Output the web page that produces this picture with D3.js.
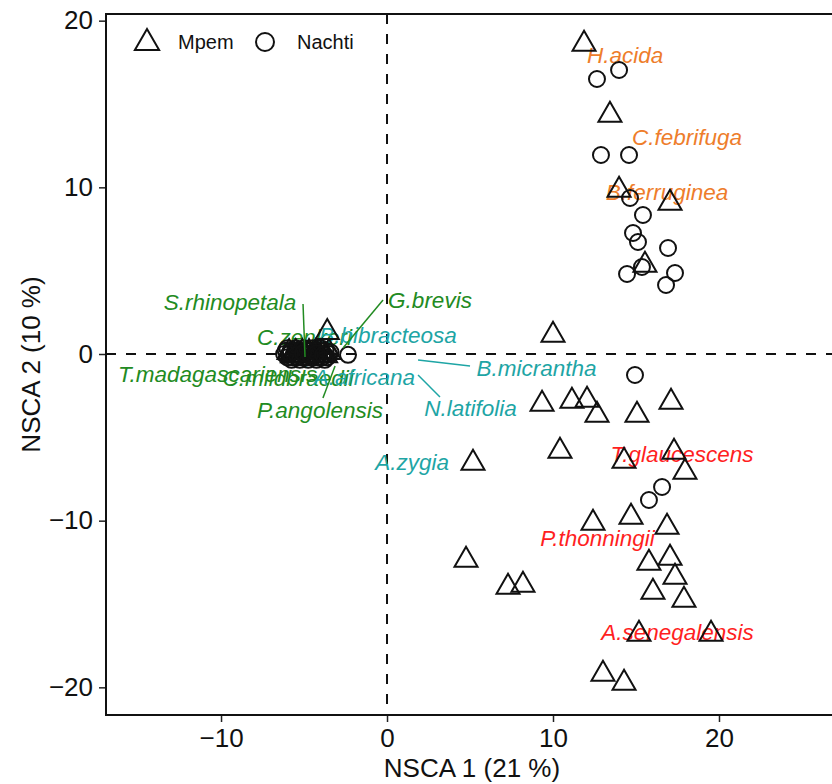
<!DOCTYPE html>
<html>
<head>
<meta charset="utf-8">
<script src="https://cdn.jsdelivr.net/npm/d3@7"></script>
<style>
  body { margin: 0; background: #fff; }
  svg { display: block; font-family: "Liberation Sans", Arial, sans-serif; }
</style>
</head>
<body>
<div id="chart"></div>
<script>
// sample scores (NSCA axis 1, axis 2)
const mpemPoints = [
  [11.87, 18.60], [13.43, 14.34], [13.98, 9.84], [17.05, 9.06], [15.54, 5.34],
  [10.00, 1.14], [9.34, -3.00], [11.14, -2.82], [12.05, -2.76], [12.65, -3.66],
  [15.06, -3.66], [17.11, -2.88], [10.42, -5.82], [5.18, -6.54], [14.28, -6.42],
  [17.29, -5.88], [17.95, -7.08], [12.41, -10.14], [14.70, -9.78], [16.87, -10.38],
  [4.76, -12.36], [15.78, -12.54], [17.05, -12.24], [17.35, -13.38], [16.02, -14.28],
  [17.89, -14.76], [7.29, -13.98], [8.19, -13.86], [15.18, -16.80], [19.52, -16.80],
  [13.01, -19.20], [14.28, -19.74],
  // the crowd near the origin
  [-5.9, 0.1], [-5.7, -0.1], [-5.5, 0.1], [-5.3, -0.1], [-5.1, 0.1], [-4.9, -0.1],
  [-4.7, 0.1], [-4.5, -0.1], [-4.3, 0.1], [-4.1, -0.1], [-3.9, 0.1], [-3.7, -0.1],
  [-3.5, 0.1], [-3.6, 1.3]
];
const nachtiPoints = [
  [12.65, 16.50], [13.98, 17.04], [12.89, 11.94], [14.58, 11.94], [14.64, 9.36],
  [15.42, 8.34], [14.82, 7.26], [15.12, 6.72], [16.93, 6.36], [14.46, 4.80],
  [15.36, 5.22], [17.35, 4.86], [16.81, 4.14], [14.94, -1.26], [16.57, -7.98],
  [15.78, -8.76],
  [-6.2, 0.0], [-6.1, 0.2], [-6.0, -0.2], [-5.9, 0.0], [-5.8, 0.2], [-5.7, -0.2],
  [-5.6, 0.0], [-5.5, 0.2], [-5.4, -0.2], [-5.3, 0.0], [-5.2, 0.2], [-5.1, -0.2],
  [-5.0, 0.0], [-4.9, 0.2], [-4.8, -0.2], [-4.7, 0.0], [-4.6, 0.2], [-4.5, -0.2],
  [-4.4, 0.0], [-4.3, 0.2], [-4.2, -0.2], [-4.1, 0.0], [-4.0, 0.2], [-3.9, -0.2],
  [-3.8, 0.0], [-3.7, 0.2], [-3.6, -0.2], [-3.5, 0.0], [-3.4, 0.1],
  [-6.0, 0.35], [-5.75, -0.35], [-5.5, 0.35], [-5.25, -0.35], [-5.0, 0.35],
  [-4.75, -0.35], [-4.5, 0.35], [-4.25, -0.35], [-4.0, 0.35], [-3.75, -0.35],
  [-5.85, 0.05], [-5.45, -0.05], [-5.05, 0.05], [-4.65, -0.05], [-4.25, 0.05],
  [-3.85, -0.05],
  [-2.35, -0.05]
];

// species labels: name, colour group, label centre
const speciesNames = ['S.rhinopetala', 'G.brevis', 'C.zenkeri', 'T.madagascariensis',
  'C.mildbraedii', 'P.angolensis', 'B.bibracteosa', 'A.africana', 'B.micrantha',
  'N.latifolia', 'A.zygia', 'H.acida', 'C.febrifuga', 'B.ferruginea',
  'T.glaucescens', 'P.thonningii', 'A.senegalensis'];
const speciesGroup = ['g', 'g', 'g', 'g', 'g', 'g', 't', 't', 't', 't', 't',
  'o', 'o', 'o', 'r', 'r', 'r'];
const labelX = [-9.46, 2.59, -4.97, -10.21, -5.96, -4.04, 0.06, -1.36, 9.01,
  5.03, 1.51, 14.34, 18.07, 16.87, 17.77, 12.68, 17.50];
const labelY = [3.12, 3.24, 1.02, -1.20, -1.44, -3.36, 1.14, -1.38, -0.84,
  -3.24, -6.48, 17.94, 13.02, 9.72, -6.00, -11.04, -16.68];

// leader segments (species -> label)
const segSpecies = ['S.rhinopetala', 'G.brevis', 'P.angolensis', 'B.micrantha', 'N.latifolia'];
const segFromX = [-4.94, -2.65, -3.13, 1.87, 1.87];
const segFromY = [-0.18, 0.36, -0.72, -0.36, -1.26];
const segToX = [-5.06, -0.24, -3.86, 5.00, 3.19];
const segToY = [3.00, 3.24, -2.64, -0.72, -2.58];

const groupColors = { g: '#228b22', t: '#1ea5a5', o: '#ee7d2b', r: '#ff1f1f' };

const xTicks = [-10, 0, 10, 20];
const yTicks = [-20, -10, 0, 10, 20];

const width = 832, height = 784;
const plotLeft = 106, plotTop = 14, plotRight = 838, plotBottom = 715;

const x = d3.scaleLinear().domain([-16.93, 27.17]).range([plotLeft, plotRight]);
const y = d3.scaleLinear().domain([-21.66, 20.4]).range([plotBottom, plotTop]);

const fmt = d => d < 0 ? '\u2212' + Math.abs(d) : String(d);

const svg = d3.select('#chart').append('svg')
  .attr('width', width)
  .attr('height', height);

svg.append('defs').append('clipPath')
  .attr('id', 'plotclip')
  .append('rect')
  .attr('x', plotLeft).attr('y', plotTop)
  .attr('width', plotRight - plotLeft).attr('height', plotBottom - plotTop);

// axes
const yAxis = svg.append('g')
  .attr('transform', `translate(${plotLeft},0)`)
  .call(d3.axisLeft(y).tickValues(yTicks).tickSize(7).tickPadding(6).tickFormat(fmt));
const xAxis = svg.append('g')
  .attr('transform', `translate(0,${plotBottom})`)
  .call(d3.axisBottom(x).tickValues(xTicks).tickSize(7).tickPadding(7).tickFormat(fmt));
[xAxis, yAxis].forEach(a => {
  a.select('.domain').remove();
  a.selectAll('line').attr('stroke', '#222').attr('stroke-width', 1.5);
  a.selectAll('text').attr('fill', '#111').style('font-size', '26px')
    .style('font-family', '"Liberation Sans", Arial, sans-serif');
});

svg.append('text')
  .attr('x', (plotLeft + plotRight) / 2).attr('y', 777)
  .attr('text-anchor', 'middle')
  .style('font-size', '26px').attr('fill', '#111')
  .text('NSCA 1 (21 %)');
svg.append('text')
  .attr('transform', `translate(40,${(plotTop + plotBottom) / 2}) rotate(-90)`)
  .attr('text-anchor', 'middle')
  .style('font-size', '26px').attr('fill', '#111')
  .text('NSCA 2 (10 %)');

const plot = svg.append('g').attr('clip-path', 'url(#plotclip)');

// zero lines
plot.append('line')
  .attr('x1', x(0)).attr('x2', x(0)).attr('y1', plotTop).attr('y2', plotBottom)
  .attr('stroke', '#111').attr('stroke-width', 2).attr('stroke-dasharray', '10,10');
plot.append('line')
  .attr('x1', plotLeft).attr('x2', plotRight).attr('y1', y(0)).attr('y2', y(0))
  .attr('stroke', '#111').attr('stroke-width', 2).attr('stroke-dasharray', '10,10');

// species labels (drawn under the points)
plot.selectAll('.sp')
  .data(speciesNames)
  .enter().append('text')
  .attr('class', 'sp')
  .attr('x', (d, i) => x(labelX[i]))
  .attr('y', (d, i) => y(labelY[i]))
  .attr('text-anchor', 'middle')
  .attr('dominant-baseline', 'central')
  .style('font-size', '22.5px')
  .style('font-style', 'italic')
  .attr('fill', (d, i) => groupColors[speciesGroup[i]])
  .text(d => d);

const tri = r => `M0,${-r}L${r * 0.866},${r / 2}L${-r * 0.866},${r / 2}Z`;

plot.selectAll('.mpem')
  .data(mpemPoints)
  .enter().append('path')
  .attr('class', 'mpem')
  .attr('transform', d => `translate(${x(d[0])},${y(d[1])})`)
  .attr('d', tri(13.3))
  .attr('fill', 'none')
  .attr('stroke', '#111')
  .attr('stroke-width', 2);

plot.selectAll('.nachti')
  .data(nachtiPoints)
  .enter().append('circle')
  .attr('class', 'nachti')
  .attr('cx', d => x(d[0]))
  .attr('cy', d => y(d[1]))
  .attr('r', 8)
  .attr('fill', 'none')
  .attr('stroke', '#111')
  .attr('stroke-width', 2);

// leader segments on top
plot.selectAll('.seg')
  .data(segSpecies)
  .enter().append('line')
  .attr('class', 'seg')
  .attr('x1', (d, i) => x(segFromX[i]))
  .attr('y1', (d, i) => y(segFromY[i]))
  .attr('x2', (d, i) => x(segToX[i]))
  .attr('y2', (d, i) => y(segToY[i]))
  .attr('stroke', d => groupColors[speciesGroup[speciesNames.indexOf(d)]])
  .attr('stroke-width', 1.5);

// plot frame
svg.append('rect')
  .attr('x', plotLeft).attr('y', plotTop)
  .attr('width', plotRight - plotLeft).attr('height', plotBottom - plotTop)
  .attr('fill', 'none')
  .attr('stroke', '#111')
  .attr('stroke-width', 2);

// legend
const legend = svg.append('g');
legend.append('path')
  .attr('transform', 'translate(147,43)')
  .attr('d', tri(14))
  .attr('fill', 'none').attr('stroke', '#111').attr('stroke-width', 2);
legend.append('text')
  .attr('x', 178).attr('y', 49)
  .style('font-size', '20px').attr('fill', '#111')
  .text('Mpem');
legend.append('circle')
  .attr('cx', 265).attr('cy', 42).attr('r', 9)
  .attr('fill', 'none').attr('stroke', '#111').attr('stroke-width', 2);
legend.append('text')
  .attr('x', 297).attr('y', 49)
  .style('font-size', '20px').attr('fill', '#111')
  .text('Nachti');
</script>
</body>
</html>
